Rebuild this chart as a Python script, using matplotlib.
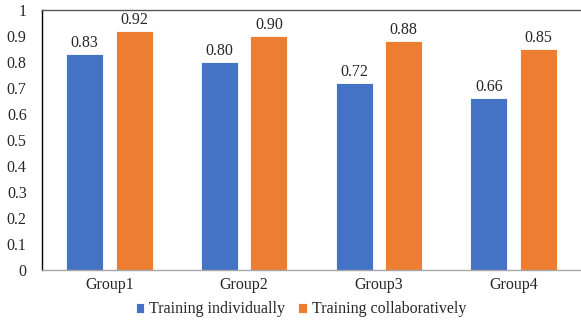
import matplotlib.pyplot as plt
import numpy as np

# Data
groups = ["Group1", "Group2", "Group3", "Group4"]
individual = [0.83, 0.80, 0.72, 0.66]
collaborative = [0.92, 0.90, 0.88, 0.85]

plt.rcParams['font.family'] = ['Liberation Serif', 'DejaVu Serif']

x = np.arange(len(groups))
width = 0.275
offset = 0.184
fs = 11.5
txt = '#262626'

fig = plt.figure(figsize=(5.81, 3.20), dpi=100)
ax = fig.add_axes([0.0723, 0.156, 0.9277, 0.813])

bars1 = ax.bar(x - offset, individual, width, color='#4472C4', edgecolor='white',
               linewidth=0.6, label='Training individually', zorder=2)
bars2 = ax.bar(x + offset, collaborative, width, color='#ED7D31', edgecolor='white',
               linewidth=0.6, label='Training collaboratively', zorder=2)

for bars in (bars1, bars2):
    for b in bars:
        ax.text(b.get_x() + b.get_width() / 2, b.get_height() + 0.012,
                f'{b.get_height():.2f}', ha='center', va='bottom',
                fontsize=fs, color=txt)

ax.set_xlim(-0.5, len(groups) - 0.5)
ax.set_ylim(0, 1)
ax.set_yticks(np.arange(0, 1.01, 0.1))
ax.set_yticklabels(['0'] + [f'{v:.1f}' for v in np.arange(0.1, 0.95, 0.1)] + ['1'])
ax.set_xticks(x)
ax.set_xticklabels(groups)
ax.tick_params(axis='y', length=0, pad=11, labelsize=fs, labelcolor=txt)
ax.tick_params(axis='x', length=0, pad=5, labelsize=fs, labelcolor=txt)

ax.spines['right'].set_visible(False)
ax.spines['left'].set_color('black')
ax.spines['left'].set_linewidth(1.0)
ax.spines['top'].set_color('#555555')
ax.spines['top'].set_linewidth(1.0)
ax.spines['bottom'].set_color('#A6A6A6')
ax.spines['bottom'].set_linewidth(1.0)

leg = ax.legend(loc='upper center', bbox_to_anchor=(0.48, -0.09), ncol=2,
                frameon=False, fontsize=fs, handlelength=0.55, handleheight=0.55,
                handletextpad=0.3, columnspacing=0.8, borderpad=0)
for t in leg.get_texts():
    t.set_color(txt)

fig.savefig('out.png', dpi=100)
